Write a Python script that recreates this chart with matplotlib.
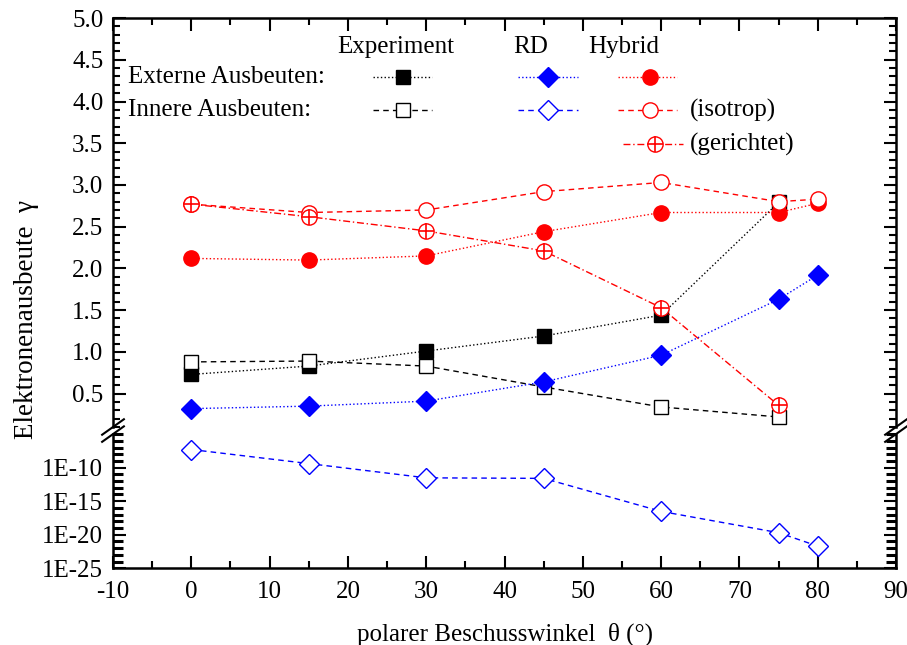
import matplotlib
matplotlib.use('Agg')
import matplotlib.pyplot as plt
from matplotlib.lines import Line2D
from matplotlib.ticker import FixedLocator, MultipleLocator, NullFormatter

plt.rcParams['font.family'] = ['Liberation Serif', 'DejaVu Serif']
plt.rcParams['font.size'] = 18
plt.rcParams['axes.unicode_minus'] = False

# polar angle (deg)
angle = [0, 15, 30, 45, 60, 75, 80]
angle6 = [0, 15, 30, 45, 60, 75]

# experiment
exp_ext = [0.73, 0.83, 1.01, 1.19, 1.44, 2.79]
exp_inn = [0.88, 0.89, 0.83, 0.58, 0.34, 0.22]

# RD simulation
rd_ext = [0.32, 0.35, 0.41, 0.64, 0.96, 1.63, 1.92]
rd_inn = [5e-8, 4e-10, 3e-12, 2.5e-12, 3e-17, 2e-20, 2e-22]

# hybrid model
hyb_ext = [2.12, 2.10, 2.15, 2.44, 2.67, 2.67, 2.78]
hyb_iso = [2.77, 2.67, 2.70, 2.92, 3.03, 2.80, 2.83]
hyb_dir = [2.77, 2.62, 2.45, 2.21, 1.53, 0.36]

BLUE = '#0000ff'
RED = '#ff0000'

fig = plt.figure(figsize=(9.07, 6.45), dpi=100)
ax = fig.add_axes([0.1246, 0.338, 0.8633, 0.634])
axl = fig.add_axes([0.1246, 0.119, 0.8633, 0.208])

lw = 1.0
ms = 10

# upper (linear) part
ax.plot(angle6, exp_ext, ':', color='k', lw=lw, marker='s', ms=ms, mfc='k', mec='k')
ax.plot(angle6, exp_inn, '--', color='k', lw=lw, marker='s', ms=ms, mfc='white', mec='k', dashes=(4, 3))
ax.plot(angle, rd_ext, ':', color=BLUE, lw=lw, marker='D', ms=ms, mfc=BLUE, mec=BLUE)
ax.plot(angle, hyb_ext, ':', color=RED, lw=lw, marker='o', ms=ms + 1, mfc=RED, mec=RED)
ax.plot(angle, hyb_iso, '--', color=RED, lw=lw, marker='o', ms=ms + 1, mfc='white', mec=RED, dashes=(4, 3))
ax.plot(angle6, hyb_dir, color=RED, lw=lw, marker='o', ms=ms + 1, mfc='white', mec=RED,
        dashes=(5, 2, 1, 2))
ax.plot(angle6, hyb_dir, ls='none', marker='+', ms=ms + 1, mec=RED, mew=1.2)

# lower (log) part
axl.plot(angle, rd_inn, '--', color=BLUE, lw=lw, marker='D', ms=ms, mfc='white', mec=BLUE, dashes=(4, 3))
axl.set_yscale('log')

for a in (ax, axl):
    a.set_xlim(-10, 90)
    a.xaxis.set_major_locator(MultipleLocator(10))
    a.xaxis.set_minor_locator(MultipleLocator(5))
    a.tick_params(which='both', direction='in', width=1.5, top=True, right=True, pad=7)
    a.tick_params(which='major', length=9)
    a.tick_params(which='minor', length=5)
    for s in a.spines.values():
        s.set_linewidth(1.8)

ax.set_ylim(0.1, 5.0)
ax.yaxis.set_major_locator(FixedLocator([0.5, 1.0, 1.5, 2.0, 2.5, 3.0, 3.5, 4.0, 4.5, 5.0]))
ax.yaxis.set_minor_locator(MultipleLocator(0.1))
ax.yaxis.set_major_formatter(matplotlib.ticker.FormatStrFormatter('%.1f'))
ax.spines['bottom'].set_visible(False)
ax.tick_params(axis='x', which='both', bottom=False, labelbottom=False)

axl.set_ylim(1e-25, 1e-5)
axl.yaxis.set_major_locator(FixedLocator([1e-25, 1e-20, 1e-15, 1e-10]))
axl.yaxis.set_minor_locator(FixedLocator([10.0 ** e for e in range(-25, -4)]))
axl.yaxis.set_minor_formatter(NullFormatter())
axl.set_yticklabels(['1E-25', '1E-20', '1E-15', '1E-10'])
axl.spines['top'].set_visible(False)
axl.tick_params(axis='x', which='both', top=False)
axl.tick_params(axis='x', pad=9)
axl.tick_params(axis='y', which='minor', width=2.2, length=7)
axl.set_xlabel('polarer Beschusswinkel  θ (°)', labelpad=14)

fig.text(0.029, 0.504, 'Elektronenausbeute  γ', rotation=90, ha='center', va='center',
         fontsize=19.5)

# axis break marks
for xf in (0.1246, 0.1246 + 0.8633):
    for yf in (0.338, 0.327):
        fig.add_artist(Line2D([xf - 0.012, xf + 0.012], [yf - 0.012, yf + 0.012],
                              color='k', lw=1.5))

# manual legend
t = ax.transAxes
ax.text(0.361, 0.929, 'Experiment', transform=t, ha='center', va='center')
ax.text(0.534, 0.929, 'RD', transform=t, ha='center', va='center')
ax.text(0.652, 0.929, 'Hybrid', transform=t, ha='center', va='center')
ax.text(0.019, 0.856, 'Externe Ausbeuten:', transform=t, ha='left', va='center')
ax.text(0.019, 0.775, 'Innere Ausbeuten:', transform=t, ha='left', va='center')
ax.text(0.737, 0.775, '(isotrop)', transform=t, ha='left', va='center')
ax.text(0.737, 0.692, '(gerichtet)', transform=t, ha='left', va='center')


def sample(x0, x1, xm, y, ls, color, marker, mfc, msz=ms, dashes=None):
    kw = {}
    if dashes:
        kw['dashes'] = dashes
    ax.plot([x0, x1], [y, y], ls, color=color, lw=lw, transform=t, **kw)
    ax.plot([xm], [y], marker=marker, ms=msz, mfc=mfc, mec=color, ls='none', transform=t)


sample(0.332, 0.407, 0.370, 0.856, ':', 'k', 's', 'k')
sample(0.332, 0.407, 0.370, 0.775, '--', 'k', 's', 'white', dashes=(4, 3))
sample(0.517, 0.594, 0.556, 0.856, ':', BLUE, 'D', BLUE)
sample(0.517, 0.594, 0.556, 0.775, '--', BLUE, 'D', 'white', dashes=(4, 3))
sample(0.645, 0.720, 0.686, 0.856, ':', RED, 'o', RED, msz=ms + 1)
sample(0.645, 0.720, 0.686, 0.775, '--', RED, 'o', 'white', msz=ms + 1, dashes=(4, 3))
sample(0.651, 0.728, 0.692, 0.692, '-', RED, 'o', 'white', msz=ms + 1, dashes=(5, 2, 1, 2))
ax.plot([0.692], [0.692], marker='+', ms=ms + 1, mec=RED, mew=1.2, ls='none', transform=t)

fig.savefig('out.png', dpi=100)
